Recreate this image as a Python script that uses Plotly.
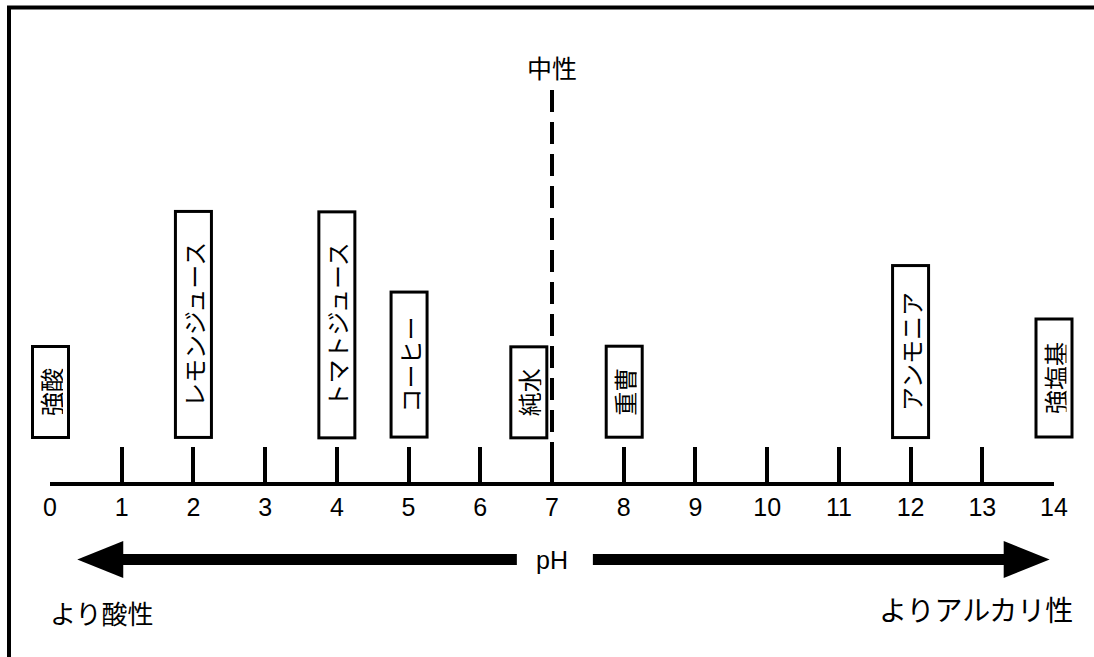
import plotly.graph_objects as go

# pH scale
ph_ticks = list(range(0, 15))
neutral_ph = 7

# substances marked above the scale
substances = ["強酸", "レモンジュース", "トマトジュース", "コーヒー", "純水", "重曹", "アンモニア", "強塩基"]
substance_ph = [0, 2, 4, 5, 6.67, 8, 12, 14]

# arrows under the scale: [pH where the shaft starts, pH of the tip]
acid_arrow = [6.51, 0.38]
base_arrow = [7.57, 13.94]

axis_title = "pH"
neutral_label = "中性"
acid_label = "より酸性"
base_label = "よりアルカリ性"

W, H = 1094, 657
X0_PX, X14_PX = 50, 1054      # pixel columns of pH 0 and pH 14
AXIS_PX = 484                 # pixel row of the scale line
PX = (X14_PX - X0_PX) / 14    # pixels per pH unit

JP = "Noto Sans CJK JP"
LAT = "Liberation Sans, Arial, sans-serif"
BLACK = "#000000"

fig = go.Figure()

# invisible trace so the pH axis (x2) gets drawn
fig.add_trace(go.Scatter(
    x=[ph_ticks[0], ph_ticks[-1]], y=[0, 0], xaxis="x2", yaxis="y",
    mode="markers", marker=dict(opacity=0), hoverinfo="skip", showlegend=False,
))

# neutral dashed line
fig.add_shape(type="line", x0=neutral_ph, x1=neutral_ph, y0=AXIS_PX - 90, y1=0,
              line=dict(color=BLACK, width=4, dash="22px,10px"))
fig.add_annotation(x=neutral_ph, y=AXIS_PX - 67, text=neutral_label, showarrow=False,
                   font=dict(family=JP, size=25, color=BLACK))

# boxed substance labels, rotated
for name, ph in zip(substances, substance_ph):
    fig.add_annotation(
        x=ph, y=45, xanchor="center", yanchor="bottom",
        text=name, textangle=-90, showarrow=False,
        width=27 * len(name) + 26, height=25,
        bordercolor=BLACK, borderwidth=3, borderpad=4, bgcolor="white",
        font=dict(family=JP, size=24, color=BLACK),
    )

# arrows
ARROW_Y = -75.5
HEAD_LEN = 46 / PX
HEAD_HALF = 18.5
for start, tip in (acid_arrow, base_arrow):
    d = 1 if tip > start else -1
    base = tip - d * HEAD_LEN
    fig.add_shape(type="line", x0=start, x1=base + d * 0.02, y0=ARROW_Y, y1=ARROW_Y,
                  line=dict(color=BLACK, width=11))
    fig.add_shape(type="path",
                  path=f"M {tip},{ARROW_Y} L {base},{ARROW_Y + HEAD_HALF} L {base},{ARROW_Y - HEAD_HALF} Z",
                  fillcolor=BLACK, line=dict(color=BLACK, width=0))

fig.add_annotation(x=neutral_ph, y=ARROW_Y, text=axis_title, showarrow=False,
                   font=dict(family=LAT, size=25, color=BLACK))

# direction captions under the arrows
fig.add_annotation(xref="paper", yref="paper", x=48 / W, y=1 - 612 / H,
                   xanchor="left", yanchor="middle", text=acid_label, showarrow=False,
                   font=dict(family=JP, size=26, color=BLACK))
fig.add_annotation(xref="paper", yref="paper", x=1075 / W, y=1 - 609 / H,
                   xanchor="right", yanchor="middle", text=base_label, showarrow=False,
                   font=dict(family=JP, size=28, color=BLACK))

# frame: top and left edges only
fig.add_shape(type="path", xref="paper", yref="paper",
              path=f"M {9 / W},0 L {9 / W},{1 - 7.5 / H} L 1,{1 - 7.5 / H}",
              line=dict(color=BLACK, width=4))

fig.update_layout(
    width=W, height=H, autosize=False,
    margin=dict(l=0, r=0, t=0, b=0, pad=0, autoexpand=False),
    paper_bgcolor="white", plot_bgcolor="white",
    showlegend=False,
    xaxis=dict(range=[-X0_PX / PX, (W - X0_PX) / PX], visible=False, fixedrange=True),
    xaxis2=dict(
        domain=[X0_PX / W, X14_PX / W], range=[0, 14], anchor="free",
        position=1 - AXIS_PX / H,
        tickmode="array", tickvals=ph_ticks, ticktext=[str(v) for v in ph_ticks],
        ticks="inside", ticklen=35, tickwidth=4, tickcolor=BLACK,
        showline=True, linewidth=4, linecolor=BLACK,
        showgrid=False, zeroline=False,
        tickfont=dict(family=LAT, size=25, color=BLACK),
        fixedrange=True,
    ),
    yaxis=dict(range=[AXIS_PX - H, AXIS_PX], visible=False, fixedrange=True),
)

fig.write_html(
    "out.html",
    config={"displayModeBar": False, "responsive": False},
    default_width=f"{W}px", default_height=f"{H}px",
    post_script="document.body.style.margin = '0'; document.body.style.overflow = 'hidden';",
)
